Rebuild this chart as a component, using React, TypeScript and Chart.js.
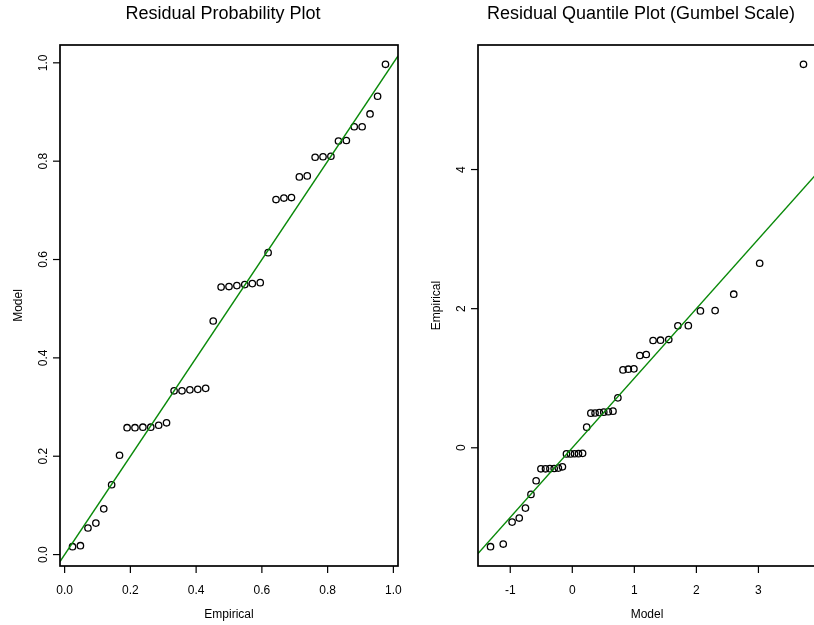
import React, { useEffect, useRef } from "react";
import { Chart, registerables } from "chart.js";

Chart.register(...registerables);

// ---- Left panel: Residual Probability Plot ----
const empiricalProb = [
  0.024, 0.048, 0.071, 0.095, 0.119, 0.143, 0.167, 0.190, 0.214, 0.238, 0.262,
  0.286, 0.310, 0.333, 0.357, 0.381, 0.405, 0.429, 0.452, 0.476, 0.500, 0.524,
  0.548, 0.571, 0.595, 0.619, 0.643, 0.667, 0.690, 0.714, 0.738, 0.762, 0.786,
  0.810, 0.833, 0.857, 0.881, 0.905, 0.929, 0.952, 0.976,
];
const modelProb = [
  0.016, 0.018, 0.054, 0.064, 0.093, 0.142, 0.202, 0.258, 0.258, 0.259, 0.259,
  0.263, 0.268, 0.333, 0.333, 0.335, 0.336, 0.338, 0.475, 0.544, 0.545, 0.547,
  0.549, 0.551, 0.553, 0.614, 0.722, 0.725, 0.726, 0.768, 0.770, 0.808, 0.809,
  0.810, 0.841, 0.842, 0.870, 0.870, 0.896, 0.932, 0.997,
];
const probTicks = [0, 0.2, 0.4, 0.6, 0.8, 1.0];
const probTickLabels = ["0.0", "0.2", "0.4", "0.6", "0.8", "1.0"];

// ---- Right panel: Residual Quantile Plot (Gumbel Scale) ----
const modelQuant = [
  -1.318, -1.113, -0.970, -0.855, -0.755, -0.666, -0.583, -0.506, -0.432, -0.361,
  -0.292, -0.225, -0.159, -0.094, -0.029, 0.036, 0.100, 0.166, 0.232, 0.299,
  0.367, 0.436, 0.507, 0.581, 0.656, 0.735, 0.817, 0.903, 0.993, 1.089, 1.192,
  1.302, 1.422, 1.555, 1.702, 1.870, 2.065, 2.302, 2.602, 3.020, 3.726,
];
const empiricalQuant = [
  -1.422, -1.384, -1.068, -1.010, -0.867, -0.670, -0.474, -0.302, -0.302, -0.300,
  -0.298, -0.292, -0.273, -0.088, -0.088, -0.086, -0.085, -0.080, 0.297, 0.498,
  0.500, 0.506, 0.512, 0.518, 0.527, 0.718, 1.120, 1.130, 1.135, 1.327, 1.341,
  1.542, 1.547, 1.556, 1.753, 1.756, 1.968, 1.972, 2.208, 2.653, 5.513,
];
const quantXTicks = [-1, 0, 1, 2, 3];
const quantXTickLabels = ["-1", "0", "1", "2", "3"];
const quantYTicks = [0, 2, 4];
const quantYTickLabels = ["0", "2", "4"];

// reference line y = a + b x
const refIntercept = 0;
const refSlope = 1;

const FONT = '"Liberation Sans", Arial, Helvetica, sans-serif';

function rRange(v: number[]): [number, number] {
  const mn = Math.min(...v);
  const mx = Math.max(...v);
  const pad = 0.04 * (mx - mn);
  return [mn - pad, mx + pad];
}

const rAxesPlugin = {
  id: "rAxes",
  afterDraw(chart: any, _args: any, opts: any) {
    const { ctx, chartArea: a, scales } = chart;
    const xs = scales.x;
    const ys = scales.y;
    ctx.save();
    ctx.strokeStyle = "#000";
    ctx.fillStyle = "#000";
    // box
    ctx.lineWidth = 1.7;
    ctx.strokeRect(a.left, a.top, a.right - a.left, a.bottom - a.top);
    // x ticks
    ctx.lineWidth = 1.2;
    ctx.font = `12px ${FONT}`;
    ctx.textAlign = "center";
    ctx.textBaseline = "alphabetic";
    opts.xTicks.forEach((v: number, i: number) => {
      const px = xs.getPixelForValue(v);
      ctx.beginPath();
      ctx.moveTo(px, a.bottom);
      ctx.lineTo(px, a.bottom + 7);
      ctx.stroke();
      ctx.fillText(opts.xTickLabels[i], px, a.bottom + 27.5);
    });
    // y ticks
    opts.yTicks.forEach((v: number, i: number) => {
      const py = ys.getPixelForValue(v);
      ctx.beginPath();
      ctx.moveTo(a.left - 7, py);
      ctx.lineTo(a.left, py);
      ctx.stroke();
      ctx.save();
      ctx.translate(a.left - 13.5, py);
      ctx.rotate(-Math.PI / 2);
      ctx.fillText(opts.yTickLabels[i], 0, 0);
      ctx.restore();
    });
    // axis titles
    const cx = (a.left + a.right) / 2;
    const cy = (a.top + a.bottom) / 2;
    ctx.fillText(opts.xLabel, cx, a.bottom + 52);
    ctx.save();
    ctx.translate(a.left - 38.5, cy);
    ctx.rotate(-Math.PI / 2);
    ctx.fillText(opts.yLabel, 0, 0);
    ctx.restore();
    // main title
    ctx.font = `18px ${FONT}`;
    ctx.fillText(opts.title, cx - 6, 19);
    ctx.restore();
  },
};

function makeConfig(
  xs: number[],
  ys: number[],
  xTicks: number[],
  xTickLabels: string[],
  yTicks: number[],
  yTickLabels: string[],
  title: string,
  xLabel: string,
  yLabel: string
): any {
  const [xmin, xmax] = rRange(xs);
  const [ymin, ymax] = rRange(ys);
  const pts = xs.map((x, i) => ({ x, y: ys[i] }));
  const refPts = [xmin, xmax].map((x) => ({ x, y: refIntercept + refSlope * x }));
  return {
    type: "scatter",
    data: {
      datasets: [
        {
          data: refPts,
          showLine: true,
          borderColor: "#0a8a0a",
          borderWidth: 1.4,
          pointRadius: 0,
          fill: false,
          clip: 0,
        },
        {
          data: pts,
          showLine: false,
          pointStyle: "circle",
          pointRadius: 3.2,
          pointBorderWidth: 1.3,
          borderWidth: 1.3,
          borderColor: "#000",
          backgroundColor: "rgba(0,0,0,0)",
          pointBackgroundColor: "rgba(0,0,0,0)",
          pointBorderColor: "#000",
          clip: false,
        },
      ],
    },
    options: {
      responsive: false,
      animation: false,
      events: [],
      devicePixelRatio: 1,
      layout: { padding: { left: 60, right: 20, top: 45, bottom: 59 } },
      scales: {
        x: { type: "linear", min: xmin, max: xmax, display: false },
        y: { type: "linear", min: ymin, max: ymax, display: false },
      },
      plugins: {
        legend: { display: false },
        tooltip: { enabled: false },
        rAxes: { xTicks, xTickLabels, yTicks, yTickLabels, title, xLabel, yLabel },
      },
    },
    plugins: [rAxesPlugin],
  };
}

export default function App() {
  const leftRef = useRef<HTMLCanvasElement>(null);
  const rightRef = useRef<HTMLCanvasElement>(null);

  useEffect(() => {
    const left = new Chart(
      leftRef.current as HTMLCanvasElement,
      makeConfig(
        empiricalProb,
        modelProb,
        probTicks,
        probTickLabels,
        probTicks,
        probTickLabels,
        "Residual Probability Plot",
        "Empirical",
        "Model"
      )
    );
    const right = new Chart(
      rightRef.current as HTMLCanvasElement,
      makeConfig(
        modelQuant,
        empiricalQuant,
        quantXTicks,
        quantXTickLabels,
        quantYTicks,
        quantYTickLabels,
        "Residual Quantile Plot (Gumbel Scale)",
        "Model",
        "Empirical"
      )
    );
    return () => {
      left.destroy();
      right.destroy();
    };
  }, []);

  return (
    <div
      style={{
        position: "fixed",
        left: 0,
        top: 0,
        width: 814,
        height: 625,
        overflow: "hidden",
        background: "#fff",
      }}
    >
      <canvas
        ref={leftRef}
        width={418}
        height={625}
        style={{ position: "absolute", left: 0, top: 0, width: 418, height: 625 }}
      />
      <canvas
        ref={rightRef}
        width={418}
        height={625}
        style={{ position: "absolute", left: 418, top: 0, width: 418, height: 625 }}
      />
    </div>
  );
}
